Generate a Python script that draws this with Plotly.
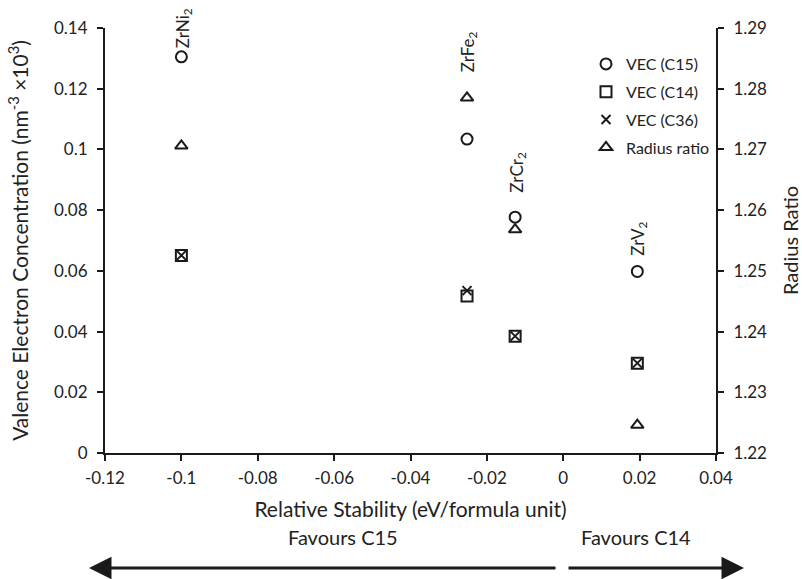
import plotly.graph_objects as go

# ---- data ----
compounds = ["ZrNi<sub>2</sub>", "ZrFe<sub>2</sub>", "ZrCr<sub>2</sub>", "ZrV<sub>2</sub>"]
rel_stability = [-0.1, -0.0252, -0.0126, 0.0194]
vec_c15 = [0.1305, 0.1034, 0.0777, 0.0598]
vec_c14 = [0.0651, 0.0517, 0.0385, 0.0296]
vec_c36 = [0.0651, 0.0535, 0.0385, 0.0296]
radius_ratio = [1.2706, 1.2785, 1.2568, 1.2246]
label_shift = [7, 23, 22, 14]
x_tickvals = [-0.12, -0.1, -0.08, -0.06, -0.04, -0.02, 0, 0.02, 0.04]
x_ticktext = ["-0.12", "-0.1", "-0.08", "-0.06", "-0.04", "-0.02", "0", "0.02", "0.04"]

FONT = "Lato, 'Open Sans', sans-serif"
TXT = "#222222"
L_PX, R_PX, T_PX, B_PX = 105, 716, 28, 453
W, H = 802, 579

def px_x(p):
    return (p - L_PX) / (R_PX - L_PX)

def px_y(p):
    return (B_PX - p) / (B_PX - T_PX)

fig = go.Figure()
mk_line = dict(color="#1a1a1a", width=2)
fig.add_trace(go.Scatter(x=rel_stability, y=vec_c15, mode="markers", name="VEC (C15)",
                         legendgroup="a",
                         marker=dict(symbol="circle-open", size=11, line=mk_line, color="#1a1a1a")))
fig.add_trace(go.Scatter(x=rel_stability, y=vec_c14, mode="markers", name="VEC (C14)",
                         legendgroup="b",
                         marker=dict(symbol="square-open", size=11, line=mk_line, color="#1a1a1a")))
fig.add_trace(go.Scatter(x=rel_stability, y=vec_c36, mode="markers", name="VEC (C36)",
                         legendgroup="c",
                         marker=dict(symbol="x-thin-open", size=9, line=mk_line, color="#1a1a1a")))
fig.add_trace(go.Scatter(x=rel_stability, y=radius_ratio, mode="markers", name="Radius ratio",
                         legendgroup="d", yaxis="y2",
                         marker=dict(symbol="triangle-up-open", size=11, line=mk_line, color="#1a1a1a")))

annotations = []
# compound labels (rotated)
for i, name in enumerate(compounds):
    if i == 1:
        ax_y, yref = radius_ratio[i], "y2"
    else:
        ax_y, yref = vec_c15[i], "y"
    annotations.append(dict(x=rel_stability[i], y=ax_y, xref="x", yref=yref,
                            text=name, textangle=-90, showarrow=False,
                            xanchor="center", yanchor="bottom", yshift=label_shift[i], xshift=2,
                            font=dict(family=FONT, size=17, color=TXT)))

# favour arrows
arrow_y = px_y(568)
annotations.append(dict(x=px_x(89), y=arrow_y, xref="paper", yref="paper",
                        ax=557 - 89, ay=0, axref="pixel", ayref="pixel",
                        showarrow=True, arrowhead=2, arrowsize=1.5, arrowwidth=3,
                        arrowcolor="#1a1a1a", text=""))
annotations.append(dict(x=px_x(744), y=arrow_y, xref="paper", yref="paper",
                        ax=567 - 744, ay=0, axref="pixel", ayref="pixel",
                        showarrow=True, arrowhead=2, arrowsize=1.5, arrowwidth=3,
                        arrowcolor="#1a1a1a", text=""))
annotations.append(dict(x=px_x(343), y=px_y(537), xref="paper", yref="paper",
                        text="Favours C15", showarrow=False, xanchor="center", yanchor="middle",
                        font=dict(family=FONT, size=20, color=TXT)))
annotations.append(dict(x=px_x(636), y=px_y(537), xref="paper", yref="paper",
                        text="Favours C14", showarrow=False, xanchor="center", yanchor="middle",
                        font=dict(family=FONT, size=20, color=TXT)))

axis_common = dict(showgrid=False, zeroline=False, showline=True, linecolor="#1a1a1a",
                   linewidth=2, ticks="outside", ticklen=6, tickwidth=2, tickcolor="#1a1a1a",
                   tickfont=dict(family=FONT, size=17, color=TXT), automargin=False)

fig.update_layout(
    width=W, height=H,
    margin=dict(l=L_PX, r=W - R_PX, t=T_PX, b=H - B_PX),
    paper_bgcolor="white", plot_bgcolor="white",
    showlegend=True,
    legend=dict(x=px_x(586), y=px_y(47), xanchor="left", yanchor="top",
                font=dict(family=FONT, size=16, color=TXT),
                traceorder="grouped", tracegroupgap=4, bgcolor="rgba(0,0,0,0)",
                itemwidth=30),
    xaxis=dict(range=[-0.12, 0.04], tickvals=x_tickvals, ticktext=x_ticktext,
               title=dict(text="Relative Stability (eV/formula unit)",
                          font=dict(family=FONT, size=21, color=TXT), standoff=15),
               ticklabelstandoff=3, **axis_common),
    yaxis=dict(range=[0, 0.14], dtick=0.02,
               title=dict(text="Valence Electron Concentration (nm<sup>-3</sup> \u00d710<sup>3</sup>)",
                          font=dict(family=FONT, size=21, color=TXT), standoff=20),
               ticklabelstandoff=6, **axis_common),
    yaxis2=dict(range=[1.22, 1.29], dtick=0.01, overlaying="y", side="right",
                title=dict(text="Radius Ratio",
                           font=dict(family=FONT, size=20, color=TXT), standoff=18),
                ticklabelstandoff=6, tickformat=".2f", **axis_common),
    annotations=annotations,
)

fig.write_html("out.html")
